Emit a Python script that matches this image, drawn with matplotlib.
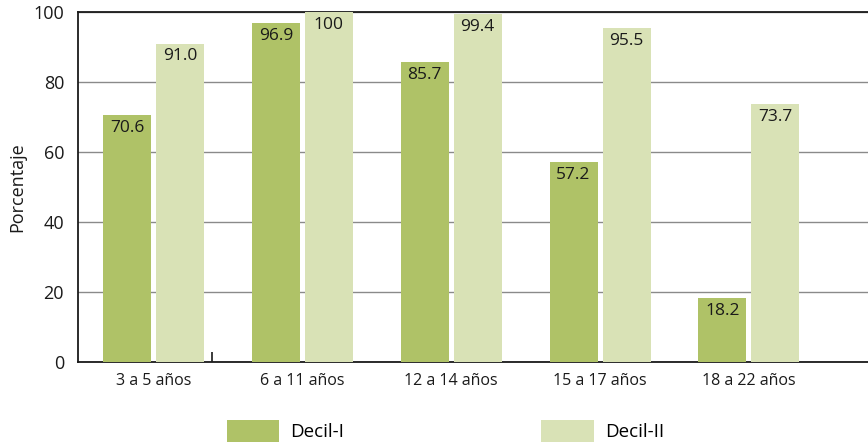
import matplotlib
matplotlib.use("Agg")
import matplotlib.pyplot as plt
import numpy as np

categories = ["3 a 5 años", "6 a 11 años", "12 a 14 años", "15 a 17 años", "18 a 22 años"]
decil_1 = [70.6, 96.9, 85.7, 57.2, 18.2]
decil_2 = [91.0, 100, 99.4, 95.5, 73.7]
labels_1 = ["70.6", "96.9", "85.7", "57.2", "18.2"]
labels_2 = ["91.0", "100", "99.4", "95.5", "73.7"]
series_names = ["Decil-I", "Decil-II"]
colors = ["#AFC267", "#D9E2B6"]

plt.rcParams['font.family'] = ['Open Sans', 'DejaVu Sans']

fig = plt.figure(figsize=(8.68, 4.43), dpi=100)
ax = fig.add_axes([78/868, 81/443, 1 - 78/868, 350/443])

x = np.arange(len(categories))
w = 0.322
off = 0.178
b1 = ax.bar(x - off, decil_1, w, color=colors[0], label=series_names[0], zorder=3)
b2 = ax.bar(x + off, decil_2, w, color=colors[1], label=series_names[1], zorder=3)

for bars, labs in ((b1, labels_1), (b2, labels_2)):
    for r, lab in zip(bars, labs):
        ax.annotate(lab, (r.get_x() + r.get_width() / 2, r.get_height()),
                    xytext=(0, -3.5), textcoords="offset points",
                    ha="center", va="top", fontsize=12.5, color="#1a1a1a", zorder=4)

ax.set_xlim(-0.507, 4.8)
ax.set_ylim(0, 100)
ax.set_yticks([0, 20, 40, 60, 80, 100])
ax.yaxis.grid(True, color="#8a8a8a", linewidth=1.0, zorder=0)
ax.set_axisbelow(True)
ax.tick_params(axis="y", length=0, pad=10, labelsize=13, labelcolor="#1a1a1a")
ax.set_xticks(x)
ax.set_xticklabels(categories)
ax.tick_params(axis="x", length=0, pad=8, labelsize=11.5, labelcolor="#1a1a1a")
ax.set_xticks([0.393], minor=True)
ax.tick_params(axis="x", which="minor", direction="in", length=7, width=1.2, color="#1a1a1a")

for s in ("left", "bottom", "top"):
    ax.spines[s].set_color("#1a1a1a")
    ax.spines[s].set_linewidth(1.3)
ax.spines["right"].set_visible(False)

ax.set_ylabel("Porcentaje", fontsize=13, color="#1a1a1a")
ax.yaxis.set_label_coords(-0.066, 0.5)

fig.legend(handles=[b1, b2], labels=series_names, loc="center",
           bbox_to_anchor=(0.513, 0.027), ncol=2, frameon=False,
           fontsize=13.5, handlelength=2.8, handleheight=1.4,
           handletextpad=0.6, columnspacing=10.5, borderpad=0, borderaxespad=0)

fig.savefig("out.png", dpi=100)
